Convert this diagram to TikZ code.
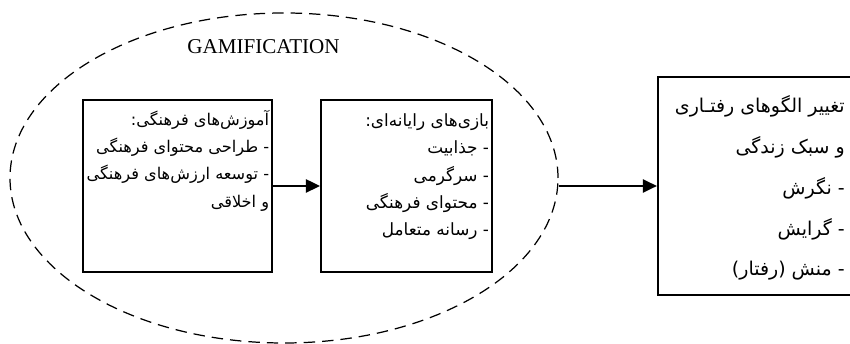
\documentclass[tikz,border=0pt]{standalone}
\usepackage{fontspec}
\setmainfont{Liberation Serif}
\newfontfamily\fafont[Script=Arabic]{DejaVu Sans}
\TeXXeTstate=1
\usepackage{tikz}
\usetikzlibrary{shapes.geometric, arrows.meta}
\usetikzlibrary{positioning}
\newcommand{\fa}[1]{\beginR #1\endR}
\tikzstyle{arrow} = [line width=1.2pt,-{Triangle[length=8pt,width=7.5pt]}]
\tikzstyle{box} = [draw, line width=1.1pt, minimum height=3.44cm]
\tikzstyle{fatext} = [anchor=north east, inner sep=1pt, align=right, font=\fafont\fontsize{9.6}{15.6}\selectfont]

\begin{document}
\begin{tikzpicture}
            \useasboundingbox (0,0) rectangle (17,6.88);
            \node[ellipse, draw, line width=0.7pt, dash pattern=on 6.5pt off 4pt, minimum width=10.96cm, minimum height=6.6cm] (gam) at (5.68,3.32) {};
            \node[font=\fontsize{12}{14}\selectfont] (gamtitle) at (5.27,5.94) {GAMIFICATION};
            
            \node[box, minimum width=3.78cm] (edu) at (3.55,3.16) {};
            \node[box, right=0.94cm of edu, minimum width=3.42cm] (games) {};
            \node[box, right=3.28cm of games, minimum width=3.9cm, minimum height=4.36cm] (change) {};
            
            \node[fatext, font=\fafont\fontsize{9.2}{15.6}\selectfont] (edutext) at ([xshift=-1pt, yshift=-5pt]edu.north east) {\fa{آموزش‌های فرهنگی:}\\ \fa{- طراحی محتوای فرهنگی}\\ \fa{- توسعه ارزش‌های فرهنگی}\\ \fa{و اخلاقی}};
            \node[fatext] (gamestext) at ([xshift=-1pt, yshift=-7pt]games.north east) {\fa{بازی‌های رایانه‌ای:}\\ \fa{- جذابیت}\\ \fa{- سرگرمی}\\ \fa{- محتوای فرهنگی}\\ \fa{- رسانه متعامل}};
            \node[fatext, font=\fafont\fontsize{10.8}{23.2}\selectfont] (changetext) at ([xshift=-4pt, yshift=-10pt]change.north east) {\fa{تغییر الگوهای رفتـاری}\\ \fa{و سبک زندگی}\\ \fa{- نگرش}\\ \fa{- گرایش}\\ \fa{- منش (رفتار)}};
            
            \draw[arrow] (edu) -- (games);
            \draw[arrow] (gam.east |- change.west) -- (change.west);
        \end{tikzpicture}
\end{document}
